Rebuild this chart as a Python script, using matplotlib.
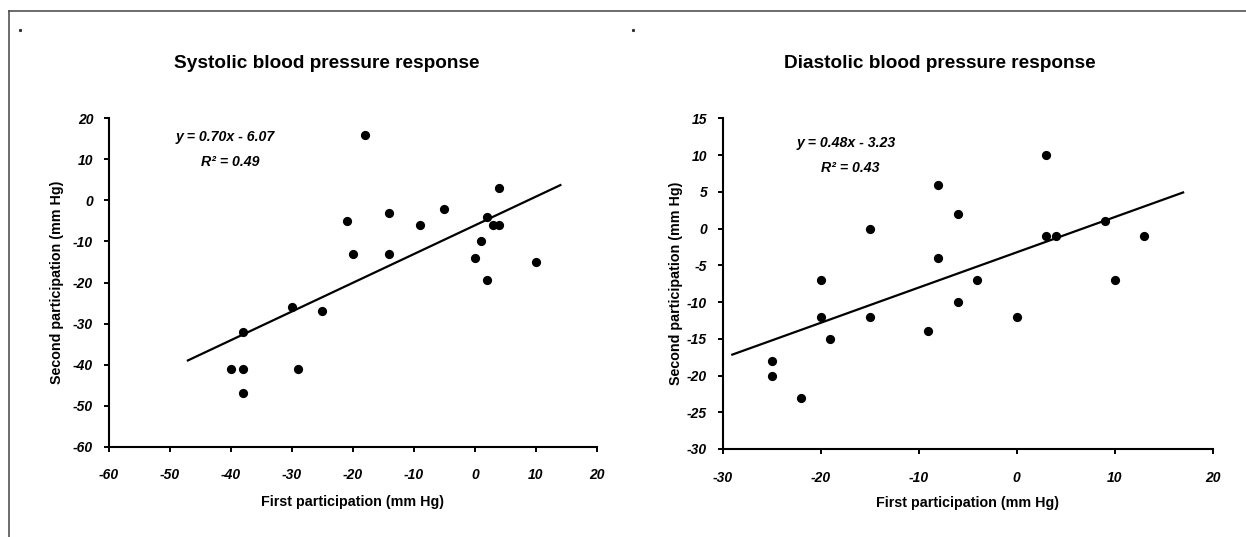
import matplotlib
matplotlib.use("Agg")
import matplotlib.pyplot as plt
from matplotlib.lines import Line2D
import numpy as np

plt.rcParams['font.family'] = ['Liberation Sans', 'DejaVu Sans']

# Systolic data
sys_first = [-18, -21, -20, -14, -14, -9, -5, 2, 3, 4, 4, 1, 0, 2, 10,
             -30, -25, -38, -40, -38, -29, -38]
sys_second = [16, -5, -13, -3, -13, -6, -2, -4, -6, -6, 3, -10, -14, -19.4, -15,
              -26, -27, -32, -41, -41, -41, -47]
sys_fit = (0.70, -6.07)
sys_fit_range = [-47, 14]
sys_xticks = [-60, -50, -40, -30, -20, -10, 0, 10, 20]
sys_yticks = [-60, -50, -40, -30, -20, -10, 0, 10, 20]

# Diastolic data
dia_first = [3, -8, -6, -15, 3, 4, 9, 13, -8, -4, 10, -20, -6, -20, -15, 0,
             -9, -19, -25, -25, -22]
dia_second = [10, 6, 2, 0, -1, -1, 1, -1, -4, -7, -7, -7, -10, -12, -12, -12,
              -14, -15, -18, -20, -23]
dia_fit = (0.48, -3.23)
dia_fit_range = [-29, 17]
dia_xticks = [-30, -20, -10, 0, 10, 20]
dia_yticks = [-30, -25, -20, -15, -10, -5, 0, 5, 10, 15]

W, H = 1246, 537
fig = plt.figure(figsize=(W / 100, H / 100), dpi=100)

def px_ax(x0, x1, ytop, ybot):
    return [x0 / W, 1 - ybot / H, (x1 - x0) / W, (ybot - ytop) / H]

ax1 = fig.add_axes(px_ax(108.5, 597, 118.3, 446.8))
ax2 = fig.add_axes(px_ax(722.5, 1212.5, 118.5, 449))

def style(ax, xt, yt, xfirst, xsecond, fit, frange, eq, r2, eqpos, r2pos, ylab_x, xlab_y):
    ax.scatter(xfirst, xsecond, s=44, color='black', zorder=3, linewidths=0)
    xs = np.array(frange, dtype=float)
    ax.plot(xs, fit[0] * xs + fit[1], color='black', lw=1.6)
    ax.set_xlim(xt[0], xt[-1])
    ax.set_ylim(yt[0], yt[-1])
    ax.set_xticks(xt)
    ax.set_yticks(yt)
    ax.set_xticklabels([str(v) for v in xt], fontsize=10, fontweight='bold', style='italic')
    ax.set_yticklabels([str(v) for v in yt], fontsize=10, fontweight='bold', style='italic')
    for s in ['top', 'right']:
        ax.spines[s].set_visible(False)
    for s in ['left', 'bottom']:
        ax.spines[s].set_linewidth(1.5)
    ax.tick_params(axis='x', direction='out', length=3.5, width=1.4, pad=12)
    ax.tick_params(axis='y', direction='out', length=3.5, width=1.4, pad=7.5)
    ax.set_xlabel('First participation (mm Hg)', fontsize=10.3, fontweight='bold')
    ax.set_ylabel('Second participation (mm Hg)', fontsize=10.3, fontweight='bold')
    ax.yaxis.set_label_coords(ylab_x, 0.5)
    ax.xaxis.set_label_coords(0.5, xlab_y)
    ax.xaxis.label.set_va('center')
    ax.yaxis.label.set_va('center')
    ax.text(eqpos[0], eqpos[1], eq, transform=ax.transAxes, ha='center', va='center',
            fontsize=10.2, fontweight='bold', style='italic')
    ax.text(r2pos[0], r2pos[1], r2, transform=ax.transAxes, ha='center', va='center',
            fontsize=10.2, fontweight='bold', style='italic')

def frac(ax_px, p):
    # convert pixel position to axes fraction given (x0, x1, ytop, ybot)
    x0, x1, yt, yb = ax_px
    return ((p[0] - x0) / (x1 - x0), (yb - p[1]) / (yb - yt))

L = (108.5, 597, 118.3, 446.8)
R = (722.5, 1212.5, 118.5, 449)

style(ax1, sys_xticks, sys_yticks, sys_first, sys_second, sys_fit, sys_fit_range,
      'y = 0.70x - 6.07', 'R\u00b2 = 0.49', frac(L, (225, 137)), frac(L, (230, 162)),
      (57 - L[0]) / (L[1] - L[0]), (L[3] - 501.7) / (L[3] - L[2]))
style(ax2, dia_xticks, dia_yticks, dia_first, dia_second, dia_fit, dia_fit_range,
      'y = 0.48x - 3.23', 'R\u00b2 = 0.43', frac(R, (846, 143)), frac(R, (850, 168)),
      (676 - R[0]) / (R[1] - R[0]), (R[3] - 502.7) / (R[3] - R[2]))

fig.text(327 / W, 1 - 63.4 / H, 'Systolic blood pressure response', ha='center', va='center',
         fontsize=13.7, fontweight='bold')
fig.text(940 / W, 1 - 63.4 / H, 'Diastolic blood pressure response', ha='center', va='center',
         fontsize=13.7, fontweight='bold')

# Frame lines
fig.add_artist(Line2D([9.3 / W, 1], [1 - 10.7 / H, 1 - 10.7 / H], transform=fig.transFigure,
                      color='#444444', lw=1.1))
fig.add_artist(Line2D([9.3 / W, 9.3 / W], [1 - 10.7 / H, 0], transform=fig.transFigure,
                      color='#444444', lw=1.1))
# tiny corner marks
for px in (20, 633):
    fig.add_artist(Line2D([px / W], [1 - 30 / H], transform=fig.transFigure, marker='s',
                          markersize=1.2, color='#333333', lw=0))

fig.savefig('out.png', dpi=100)
